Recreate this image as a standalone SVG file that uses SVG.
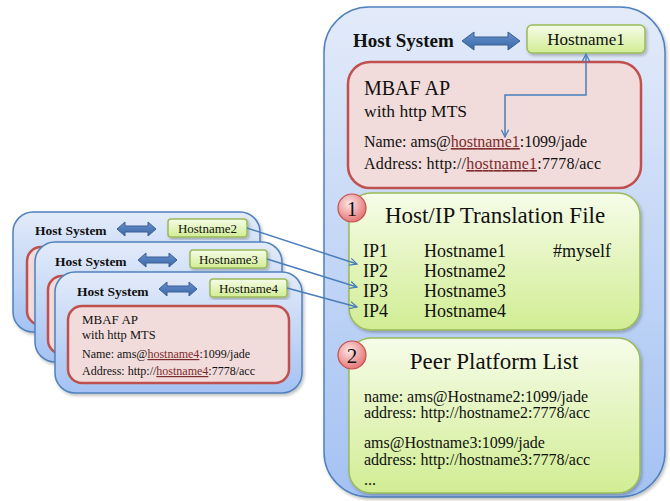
<svg xmlns="http://www.w3.org/2000/svg" width="670" height="501" viewBox="0 0 670 501">
  <defs>
    <linearGradient id="hostGrad" x1="0" y1="0" x2="0" y2="1">
      <stop offset="0" stop-color="#e3ebf9"/>
      <stop offset="1" stop-color="#a4c2f3"/>
    </linearGradient>
    <linearGradient id="greenGrad" x1="0" y1="0" x2="0" y2="1">
      <stop offset="0" stop-color="#f6fce9"/>
      <stop offset="1" stop-color="#d1ed93"/>
    </linearGradient>
    <linearGradient id="arrowGrad" x1="0" y1="0" x2="0" y2="1">
      <stop offset="0" stop-color="#6690cc"/>
      <stop offset="1" stop-color="#3c68a8"/>
    </linearGradient>
    <radialGradient id="badgeGrad" cx="0.4" cy="0.35" r="0.7">
      <stop offset="0" stop-color="#fde6e6"/>
      <stop offset="1" stop-color="#e46f6f"/>
    </radialGradient>
    <filter id="shadow" x="-10%" y="-10%" width="125%" height="125%">
      <feDropShadow dx="1.5" dy="2" stdDeviation="1.5" flood-color="#000" flood-opacity="0.25"/>
    </filter>
    <marker id="vhead" viewBox="0 0 10 10" refX="9" refY="5" markerWidth="9" markerHeight="9" markerUnits="userSpaceOnUse" orient="auto-start-reverse">
      <path d="M1,1 L9,5 L1,9" fill="none" stroke="#4a7ebb" stroke-width="1.4"/>
    </marker>
    <style>
      text { font-family: "Liberation Serif", "Times New Roman", serif; fill: #111; }
      .host { fill: url(#hostGrad); stroke: #4f81bd; stroke-width: 1.5; filter: url(#shadow); }
      .mbaf { fill: #f2dcdb; stroke: #c0504d; stroke-width: 2.5; }
      .green { fill: url(#greenGrad); stroke: #9bbb59; stroke-width: 1.5; filter: url(#shadow); }
      .dbl { fill: url(#arrowGrad); stroke: #3a5f93; stroke-width: 1; }
      .badge { fill: url(#badgeGrad); stroke: #c0504d; stroke-width: 1.2; }
      .bold { font-weight: bold; }
      .link { fill: #7d2b2b; text-decoration: underline; }
      .conn { fill: none; stroke: #4a7ebb; stroke-width: 1.5; }
    </style>
  </defs>

  <!-- remote host 2 (back) -->
  <g id="host2">
    <rect class="host" x="13" y="212" width="247" height="120" rx="20"/>
    <text class="bold" x="35" y="235" font-size="13.5">Host System</text>
    <path class="dbl" d="M117,229 L125,222 L125,226 L148,226 L148,222 L156,229 L148,236 L148,232 L125,232 L125,236 Z"/>
    <rect class="green" x="168" y="219" width="79" height="18" rx="3"/>
    <text x="207.5" y="232.5" font-size="13" text-anchor="middle">Hostname2</text>
    <rect class="mbaf" x="27" y="247" width="220" height="78" rx="14"/>
  </g>

  <!-- remote host 3 (middle) -->
  <g id="host3">
    <rect class="host" x="35" y="242" width="247" height="120" rx="20"/>
    <text class="bold" x="55" y="266" font-size="13.5">Host System</text>
    <path class="dbl" d="M138,260 L146,253 L146,257 L169,257 L169,253 L177,260 L169,267 L169,263 L146,263 L146,267 Z"/>
    <rect class="green" x="190" y="250" width="77" height="18" rx="3"/>
    <text x="228.5" y="263.5" font-size="13" text-anchor="middle">Hostname3</text>
    <rect class="mbaf" x="48" y="276" width="220" height="78" rx="14"/>
  </g>

  <!-- remote host 4 (front) -->
  <g id="host4">
    <rect class="host" x="55" y="272" width="247" height="121" rx="20"/>
    <text class="bold" x="77" y="296" font-size="13.5">Host System</text>
    <path class="dbl" d="M159,289 L167,282 L167,286 L189,286 L189,282 L197,289 L189,296 L189,292 L167,292 L167,296 Z"/>
    <rect class="green" x="210" y="279" width="77" height="18" rx="3"/>
    <text x="248.5" y="292.5" font-size="13" text-anchor="middle">Hostname4</text>
    <rect class="mbaf" x="68" y="306" width="221" height="77" rx="14"/>
    <text x="82" y="324" font-size="13">MBAF AP</text>
    <text x="82" y="339" font-size="12.5">with http MTS</text>
    <text x="82" y="358" font-size="12">Name: ams@<tspan class="link">hostname4</tspan>:1099/jade</text>
    <text x="82" y="375" font-size="12">Address: http://<tspan class="link">hostname4</tspan>:7778/acc</text>
  </g>

  <!-- local host system -->
  <g id="host1">
    <rect class="host" x="324" y="7" width="341" height="490" rx="45"/>
    <text class="bold" x="353" y="47" font-size="19">Host System</text>
    <path class="dbl" d="M462,41 L474,32 L474,37 L508,37 L508,32 L520,41 L508,50 L508,45 L474,45 L474,50 Z"/>
  </g>

  <g id="hostname1">
    <rect class="green" x="527" y="25" width="118" height="28" rx="5"/>
    <text x="586" y="45" font-size="17" text-anchor="middle">Hostname1</text>
  </g>

  <g id="mbaf-ap">
    <rect class="mbaf" x="348" y="62" width="293" height="126" rx="22"/>
    <text x="364" y="95" font-size="20">MBAF AP</text>
    <text x="364" y="117" font-size="17.5">with http MTS</text>
    <text x="364" y="147" font-size="16" textLength="223" lengthAdjust="spacing">Name: ams@<tspan class="link">hostname1</tspan>:1099/jade</text>
    <text x="364" y="169" font-size="16" textLength="237" lengthAdjust="spacing">Address: http://<tspan class="link">hostname1</tspan>:7778/acc</text>
  </g>

  <g id="translation-file">
    <rect class="green" x="349" y="193" width="291" height="137" rx="22"/>
    <text x="495" y="223" font-size="23" text-anchor="middle">Host/IP Translation File</text>
    <text x="363" y="257" font-size="18">IP1</text>
    <text x="424" y="257" font-size="18">Hostname1</text>
    <text x="553" y="257" font-size="18">#myself</text>
    <text x="363" y="277" font-size="18">IP2</text>
    <text x="424" y="277" font-size="18">Hostname2</text>
    <text x="363" y="297" font-size="18">IP3</text>
    <text x="424" y="297" font-size="18">Hostname3</text>
    <text x="363" y="317" font-size="18">IP4</text>
    <text x="424" y="317" font-size="18">Hostname4</text>
    <circle class="badge" cx="352" cy="208" r="14"/>
    <text x="352" y="215.5" font-size="21" text-anchor="middle">1</text>
  </g>

  <g id="peer-list">
    <rect class="green" x="349" y="338" width="291" height="155" rx="22"/>
    <text x="494" y="369" font-size="23" text-anchor="middle">Peer Platform List</text>
    <text x="364" y="402" font-size="16">name: ams@Hostname2:1099/jade</text>
    <text x="364" y="418" font-size="16">address: http://hostname2:7778/acc</text>
    <text x="364" y="448" font-size="16">ams@Hostname3:1099/jade</text>
    <text x="364" y="465" font-size="16">address: http://hostname3:7778/acc</text>
    <text x="364" y="485" font-size="16">...</text>
    <circle class="badge" cx="352" cy="355" r="14"/>
    <text x="352" y="362.5" font-size="21" text-anchor="middle">2</text>
  </g>

  <!-- connectors -->
  <g id="connectors">
    <path class="conn" d="M586,54 L586,95 L505,95 L505,137" marker-start="url(#vhead)" marker-end="url(#vhead)"/>
    <path class="conn" d="M247,228 L357,264" marker-end="url(#vhead)"/>
    <path class="conn" d="M267,259 L357,287" marker-end="url(#vhead)"/>
    <path class="conn" d="M287,288 L357,307" marker-end="url(#vhead)"/>
  </g>
</svg>
